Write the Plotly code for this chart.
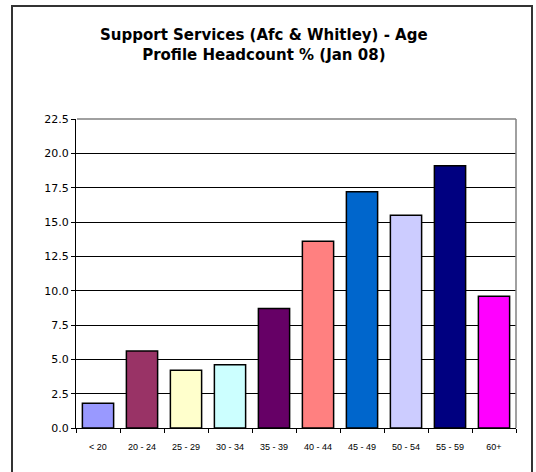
import plotly.graph_objects as go

# Age bands and headcount share (%)
age_bands = ["< 20", "20 - 24", "25 - 29", "30 - 34", "35 - 39",
             "40 - 44", "45 - 49", "50 - 54", "55 - 59", "60+"]
headcount_pct = [1.8, 5.6, 4.2, 4.6, 8.7, 13.6, 17.2, 15.5, 19.1, 9.6]
bar_colors = ["#9999FF", "#993366", "#FFFFCC", "#CCFFFF", "#660066",
              "#FF8080", "#0066CC", "#CCCCFF", "#000080", "#FF00FF"]
y_ticks = [0.0, 2.5, 5.0, 7.5, 10.0, 12.5, 15.0, 17.5, 20.0, 22.5]

W, H = 536, 472
# plot area in pixels (left, right, top, bottom)
PL, PR, PT, PB = 76, 516, 119, 428


def fx(x):
    return x / W


def fy(y):
    return 1 - y / H


def paper_line(x0, y0, x1, y1, color, width):
    return dict(type="line", xref="paper", yref="paper", layer="above",
                x0=fx(x0), x1=fx(x1), y0=fy(y0), y1=fy(y1),
                line=dict(color=color, width=width))


fig = go.Figure(go.Bar(
    x=age_bands,
    y=headcount_pct,
    marker=dict(color=bar_colors, line=dict(color="black", width=1.5)),
    hoverinfo="x+y",
))

fig.update_layout(
    width=W, height=H,
    margin=dict(l=0, r=0, t=0, b=0),
    paper_bgcolor="white",
    plot_bgcolor="white",
    bargap=0.29,
    showlegend=False,
    font=dict(family="Liberation Sans, Arial, sans-serif", color="black"),
    xaxis=dict(
        domain=[fx(PL), fx(PR)],
        automargin=False,
        showline=True, linecolor="black", linewidth=1,
        ticks="outside", ticklen=4, tickcolor="black",
        tickson="boundaries",
        tickfont=dict(size=9),
        ticklabelstandoff=10,
        showgrid=False,
    ),
    yaxis=dict(
        domain=[fy(PB), fy(PT)],
        automargin=False,
        range=[0, 22.5],
        tickvals=y_ticks,
        tickformat=".1f",
        showline=True, linecolor="black", linewidth=1,
        ticks="outside", ticklen=4, tickcolor="black",
        tickfont=dict(size=11, family="DejaVu Sans, sans-serif"),
        showgrid=True, gridcolor="black", gridwidth=1,
        zeroline=False,
    ),
    annotations=[dict(
        text="<b>Support Services (Afc & Whitley) - Age<br>Profile Headcount % (Jan 08)</b>",
        xref="paper", yref="paper",
        x=fx(264), y=fy(45),
        xanchor="center", yanchor="middle",
        showarrow=False,
        font=dict(size=15, family="DejaVu Sans, sans-serif", color="black"),
        align="center",
    )],
    shapes=[
        # plot area border (top and right)
        paper_line(PL + 1, PT, PR, PT, "#808080", 1.5),
        paper_line(PR, PB, PR, PT, "#808080", 1.5),
        # chart frame
        dict(type="rect", xref="paper", yref="paper", layer="above",
             x0=fx(12), x1=fx(532), y0=fy(480), y1=fy(6),
             line=dict(color="#333333", width=2)),
    ],
)

fig.write_html("out.html")
